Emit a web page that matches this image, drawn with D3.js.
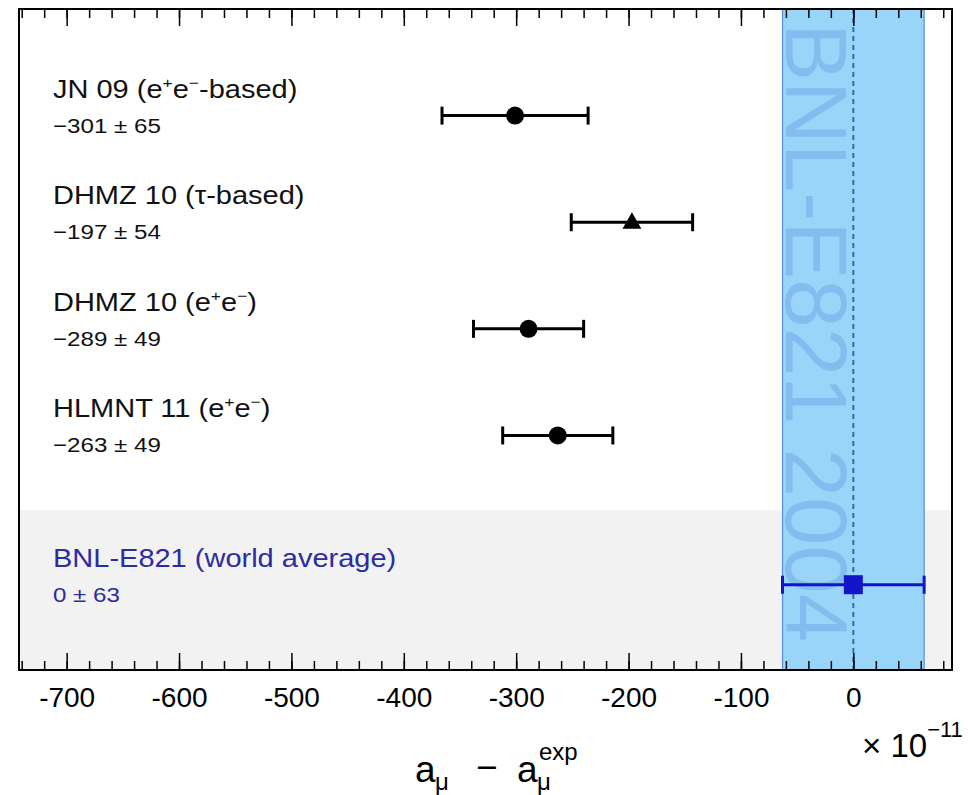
<!DOCTYPE html>
<html>
<head>
<meta charset="utf-8">
<script src="https://cdn.jsdelivr.net/npm/d3@7"></script>
<style>
  html, body { margin: 0; padding: 0; background: #fff; }
  svg { display: block; font-family: "Liberation Sans", Arial, Helvetica, sans-serif; }
</style>
</head>
<body>
<svg id="chart" width="968" height="795"></svg>
<script>
// ---- data ----
const categories = ["JN 09 (e^{+}e^{−}-based)", "DHMZ 10 (τ-based)", "DHMZ 10 (e^{+}e^{−})", "HLMNT 11 (e^{+}e^{−})", "BNL-E821  (world average)"];
const values = [-301, -197, -289, -263, 0];
const errors = [65, 54, 49, 49, 63];
const rows = [5, 4, 3, 2, 0.6];
const markers = ["circle", "triangle", "circle", "circle", "square"];
const majorTicks = [-700, -600, -500, -400, -300, -200, -100, 0];
const minorTicks = d3.range(-740, 81, 20);
const refValue = 0, refError = 63;
const refLabel = "BNL-E821 2004";

// ---- layout ----
const svg = d3.select("#chart");
const L = 19, R = 952, T = 9, B = 670;
const x = d3.scaleLinear().domain([-742.4, 87.8]).range([L, R]);
const y = d3.scaleLinear().domain([-0.2, 6.0]).range([B, T]);

svg.append("rect").attr("x", 0).attr("y", 0).attr("width", 968).attr("height", 795).attr("fill", "#fff");
// grey region for experimental value
svg.append("rect").attr("x", L).attr("y", y(1.3)).attr("width", R - L).attr("height", B - y(1.3)).attr("fill", "#f2f2f2");

// reference band
svg.append("rect").attr("x", x(refValue - refError)).attr("y", T)
  .attr("width", x(refValue + refError) - x(refValue - refError)).attr("height", B - T)
  .attr("fill", "#99d5f8");
[refValue - refError, refValue + refError].forEach(v => {
  svg.append("line").attr("x1", x(v)).attr("x2", x(v)).attr("y1", T).attr("y2", B)
    .attr("stroke", "#5a8ad6").attr("stroke-width", 1.2);
});
svg.append("text").attr("transform", `translate(${x(refValue - refError) + 3},23) rotate(90)`)
  .attr("font-size", 87).attr("fill", "#82bdf0").text(refLabel);
svg.append("line").attr("x1", x(refValue)).attr("x2", x(refValue)).attr("y1", T).attr("y2", B)
  .attr("stroke", "#3a68b8").attr("stroke-width", 2).attr("stroke-dasharray", "5,4");

// error bars + markers
values.forEach((v, i) => {
  const col = i === 4 ? "#1414c8" : "#000";
  const g = svg.append("g");
  const yy = y(rows[i]);
  g.append("line").attr("x1", x(v - errors[i])).attr("x2", x(v + errors[i])).attr("y1", yy).attr("y2", yy)
    .attr("stroke", col).attr("stroke-width", 3);
  [v - errors[i], v + errors[i]].forEach(e => {
    g.append("line").attr("x1", x(e)).attr("x2", x(e)).attr("y1", yy - 9).attr("y2", yy + 9)
      .attr("stroke", col).attr("stroke-width", 3);
  });
  const type = markers[i] === "circle" ? d3.symbolCircle : markers[i] === "triangle" ? d3.symbolTriangle : d3.symbolSquare;
  const size = markers[i] === "circle" ? 254 : markers[i] === "triangle" ? 155 : 361;
  g.append("path").attr("d", d3.symbol().type(type).size(size)())
    .attr("transform", `translate(${x(v)},${yy + (markers[i] === "triangle" ? 1 : 0)})`)
    .attr("fill", col);
});

// axes
const fmt = d => String(d);
const bottomMajor = d3.axisBottom(x).tickValues(majorTicks).tickSizeInner(-17).tickSizeOuter(0).tickPadding(17).tickFormat(fmt);
const bottomMinor = d3.axisBottom(x).tickValues(minorTicks).tickSizeInner(-9).tickSizeOuter(0).tickFormat("");
const topMajor = d3.axisTop(x).tickValues(majorTicks).tickSizeInner(-17).tickSizeOuter(0).tickFormat("");
const topMinor = d3.axisTop(x).tickValues(minorTicks).tickSizeInner(-9).tickSizeOuter(0).tickFormat("");
[[bottomMajor, B], [bottomMinor, B], [topMajor, T], [topMinor, T]].forEach(([ax, pos]) => {
  const g = svg.append("g").attr("transform", `translate(0,${pos})`).call(ax);
  g.select(".domain").remove();
  g.selectAll(".tick line").attr("stroke", "#000").attr("stroke-width", 1.5);
  g.selectAll(".tick text").attr("font-size", 28).attr("fill", "#000")
    .attr("font-family", "'Liberation Sans', Arial, sans-serif");
  g.selectAll(".tick text").filter(function () { return this.textContent === ""; }).remove();
});

// frame
svg.append("rect").attr("x", L).attr("y", T).attr("width", R - L).attr("height", B - T)
  .attr("fill", "none").attr("stroke", "#000").attr("stroke-width", 2);

// labels with superscripts
function richText(sel, str, supSize, supDy) {
  const parts = str.split(/(\^\{[^}]*\})/).filter(s => s.length);
  let pending = 0;
  parts.forEach(p => {
    const m = p.match(/^\^\{([^}]*)\}$/);
    if (m) {
      sel.append("tspan").attr("font-size", supSize).attr("dy", -supDy + pending).text(m[1]);
      pending = supDy;
    } else {
      sel.append("tspan").attr("dy", pending).text(p);
      pending = 0;
    }
  });
}
const fmtVal = (v, e) => (v < 0 ? "\u2212" + Math.abs(v) : String(v)) + " \u00B1 " + e;
categories.forEach((c, i) => {
  const yy = y(rows[i]);
  const col = i === 4 ? "#2c2ca0" : "#111";
  const t = svg.append("text").attr("transform", `translate(53,${yy - 18}) scale(1.16,1)`)
    .attr("font-size", 25).attr("fill", col);
  richText(t, c, 15, 10);
  svg.append("text").attr("transform", `translate(53,${yy + 17}) scale(1.15,1)`)
    .attr("font-size", 21).attr("fill", col).text(fmtVal(values[i], errors[i]));
});

// axis title: a_mu - a_mu^exp
const tg = svg.append("g").attr("fill", "#000");
tg.append("text").attr("x", 415).attr("y", 782).attr("font-size", 37).text("a");
tg.append("text").attr("x", 435).attr("y", 790).attr("font-size", 24).text("μ");
tg.append("text").attr("x", 476).attr("y", 780).attr("font-size", 37).text("\u2212");
tg.append("text").attr("x", 517).attr("y", 782).attr("font-size", 37).text("a");
tg.append("text").attr("x", 537).attr("y", 790).attr("font-size", 24).text("μ");
tg.append("text").attr("x", 539).attr("y", 760).attr("font-size", 24).text("exp");

// exponent
const ex = svg.append("text").attr("x", 862).attr("y", 757).attr("font-size", 33).attr("fill", "#000");
ex.append("tspan").text("\u00D7 10");
ex.append("tspan").attr("font-size", 22).attr("dy", -20).text("\u221211");
</script>
</body>
</html>
